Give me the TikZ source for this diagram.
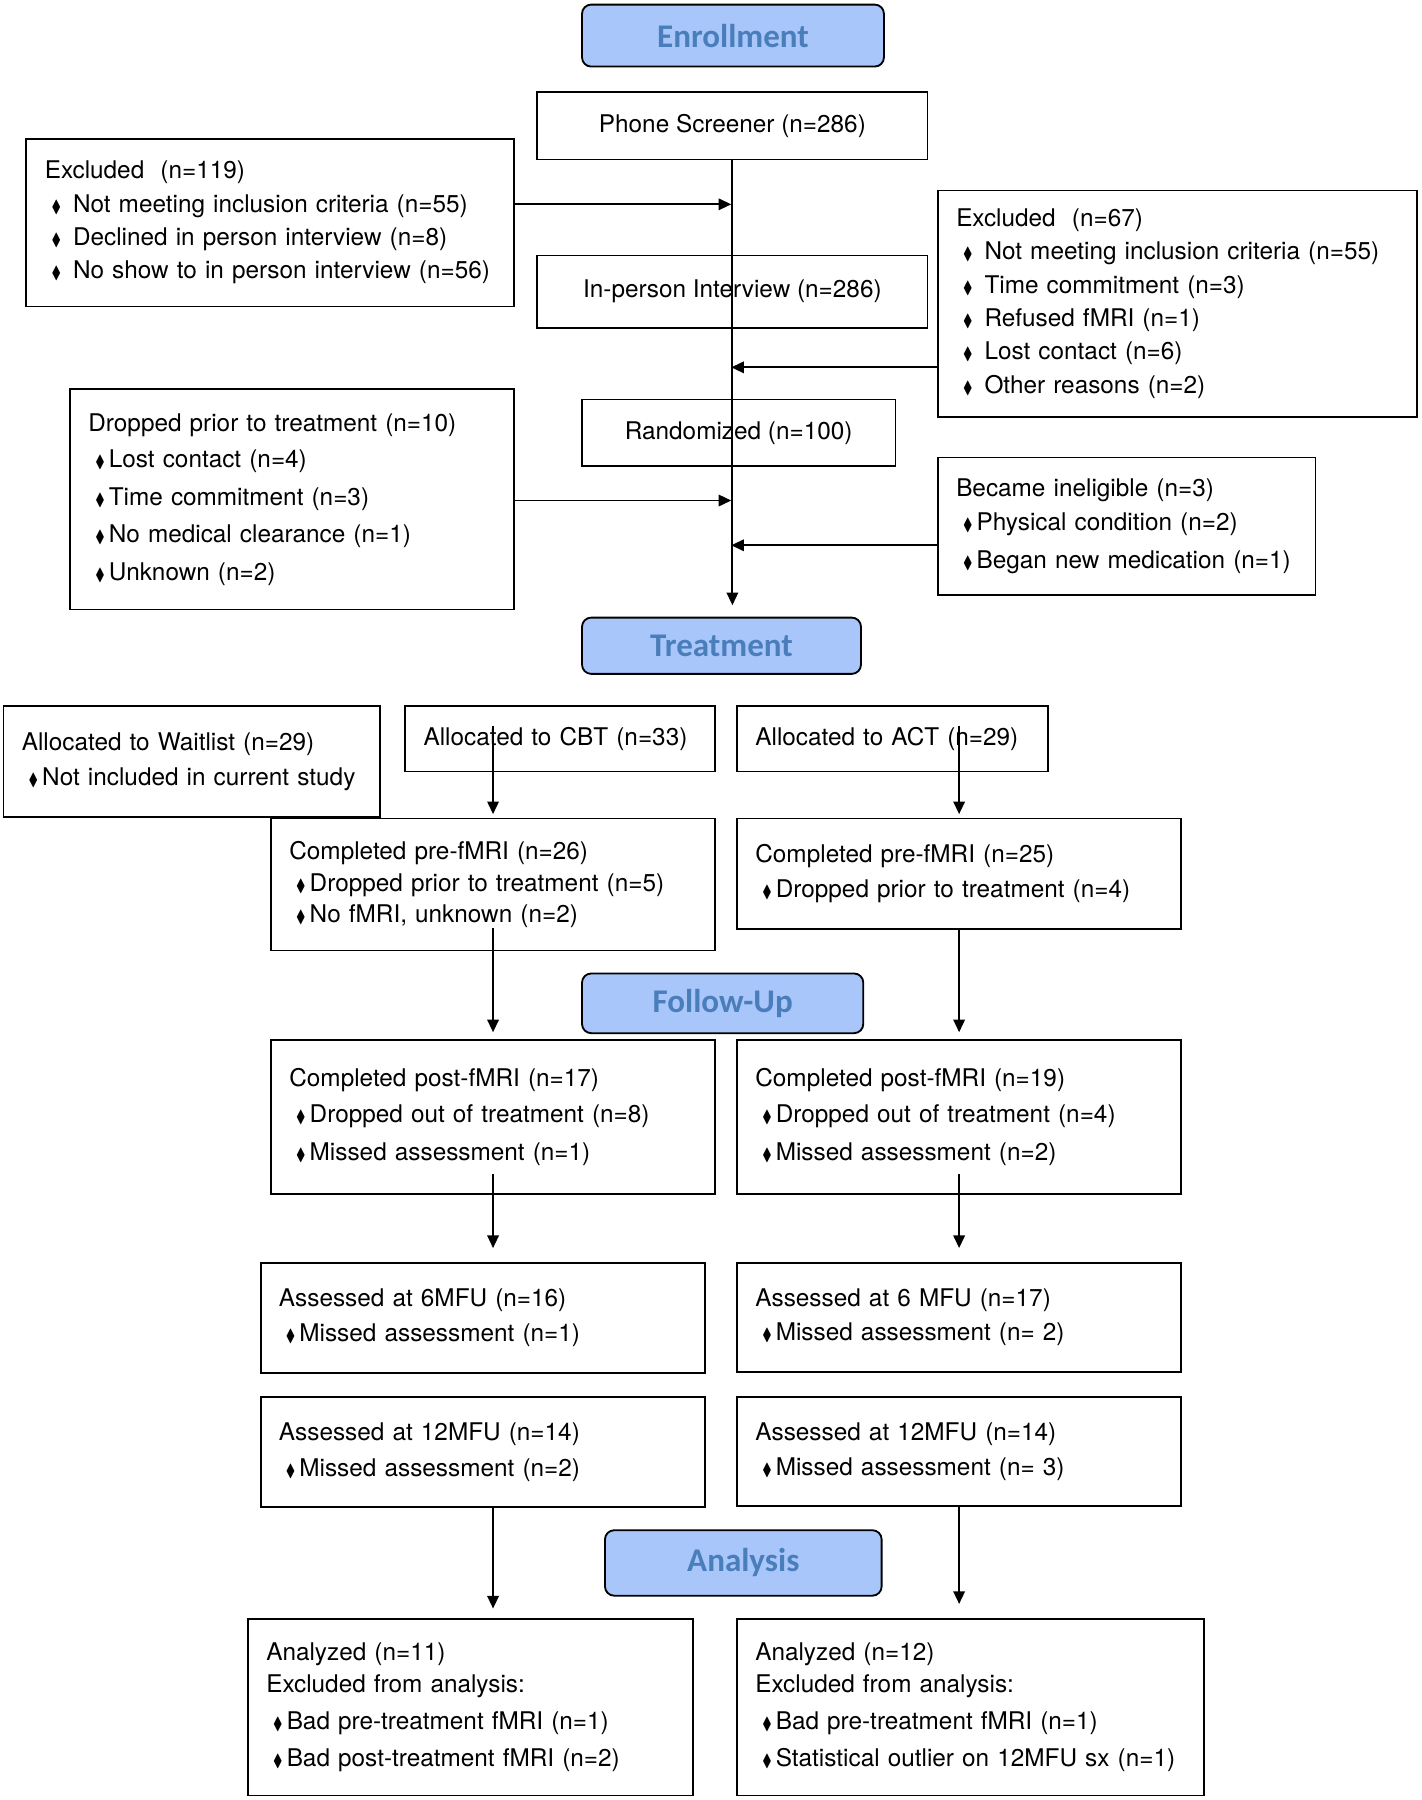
\documentclass[tikz,border=0pt]{standalone}
\usepackage{fontspec}
\usepackage{amssymb}
\setmainfont{TeX Gyre Heros}
\newfontfamily\hdrfont{Carlito}
\usetikzlibrary{arrows.meta}
\definecolor{hdrfill}{RGB}{168,198,250}
\definecolor{hdrtext}{RGB}{74,126,187}
\newcommand{\dm}[1][1.8pt]{\hspace*{3pt}\scalebox{0.58}[0.72]{$\blacklozenge$}\hspace{#1}}
\tikzset{
	box/.style={draw, line width=0.8pt, inner sep=0pt, font=\fontsize{10.6}{14.5}\selectfont},
	cbox/.style 2 args={box, minimum width=#1, minimum height=#2},
	lbox/.style 2 args={box, align=left, inner xsep=8pt, text width=#1, minimum height=#2},
	hdr/.style 2 args={draw, line width=0.8pt, rounded corners=4pt, fill=hdrfill, text=hdrtext, inner sep=0pt,
		font=\hdrfont\bfseries\fontsize{14.4}{16}\selectfont, minimum width=#1, minimum height=#2},
	arr/.style={line width=0.8pt, -{Triangle[length=5.5pt,width=5pt]}}
}
\begin{document}
\begin{tikzpicture}[x=0.5pt,y=-0.5pt]
	\useasboundingbox (0,0) rectangle (1238,1568);
	\node[hdr={131.5pt}{27pt}] (enroll) at (638.5,31) {Enrollment};
	\node[cbox={170pt}{29.5pt}] (phone) at (638,109.5) {Phone Screener (n=286)};
	\node[lbox={196.5pt}{73pt}] (excla) at (235.5,194) {Excluded~~(n=119)\\
		\dm[5.2pt]Not meeting inclusion criteria (n=55)\\
		\dm[5.2pt]Declined in person interview (n=8)\\
		\dm[5.2pt]No show to in person interview (n=56)};
	\node[cbox={170pt}{31.5pt}] (interview) at (638,254) {In-person Interview (n=286)};
	\node[lbox={192.5pt}{98.5pt}] (exclb) at (1025.5,264.5) {Excluded~~(n=67)\\
		\dm[5.2pt]Not meeting inclusion criteria (n=55)\\
		\dm[5.2pt]Time commitment (n=3)\\
		\dm[5.2pt]Refused fMRI (n=1)\\
		\dm[5.2pt]Lost contact (n=6)\\
		\dm[5.2pt]Other reasons (n=2)};
	\node[cbox={136.5pt}{29pt}] (rand) at (643.5,377) {Randomized (n=100)};
	\node[lbox={177.5pt}{96pt}] (drop) at (254.5,435) {Dropped prior to treatment (n=10)\\[1.5pt]
		\dm Lost contact (n=4)\\[1.8pt]
		\dm Time commitment (n=3)\\[1.8pt]
		\dm No medical clearance (n=1)\\[1.8pt]
		\dm Unknown (n=2)};
	\node[lbox={148.5pt}{60pt}] (inelig) at (981.5,458.5) {Became ineligible (n=3)\\[0.5pt]
		\dm Physical condition (n=2)\\[2pt]
		\dm Began new medication (n=1)};
	\node[hdr={121.5pt}{24.5pt}] (treat) at (628.5,562.5) {Treatment};
	\node[lbox={148pt}{48.5pt}] (wait) at (167,663.5) {Allocated to Waitlist (n=29)\\[0.5pt]
		\dm Not included in current study};
	\node[lbox={119pt}{28.5pt}] (cbt) at (488,643.5) {Allocated to CBT (n=33)};
	\node[lbox={119.5pt}{28.5pt}] (act) at (777.5,643.5) {Allocated to ACT (n=29)};
	\node[lbox={177.5pt}{57.5pt}] (precbt) at (429.5,770.5) {Completed pre-fMRI (n=26)\\[-0.75pt]
		\dm Dropped prior to treatment (n=5)\\[-0.75pt]
		\dm No fMRI, unknown (n=2)};
	\node[lbox={177.5pt}{48pt}] (preact) at (835.5,761) {Completed pre-fMRI (n=25)\\[1pt]
		\dm Dropped prior to treatment (n=4)};
	\node[hdr={122.5pt}{26pt}] (follow) at (629.5,874) {Follow-Up};
	\node[lbox={177.5pt}{67pt}] (postcbt) at (429.5,973) {Completed post-fMRI (n=17)\\[1pt]
		\dm Dropped out of treatment (n=8)\\[2pt]
		\dm Missed assessment (n=1)};
	\node[lbox={177.5pt}{67pt}] (postact) at (835.5,973) {Completed post-fMRI (n=19)\\[1pt]
		\dm Dropped out of treatment (n=4)\\[2pt]
		\dm Missed assessment (n=2)};
	\node[lbox={177.5pt}{48pt}] (sixcbt) at (420.5,1148) {Assessed at 6MFU (n=16)\\[0.5pt]
		\dm Missed assessment (n=1)};
	\node[lbox={177.5pt}{47.5pt}] (sixact) at (835.5,1147.5) {Assessed at 6 MFU (n=17)\\[0.5pt]
		\dm Missed assessment (n= 2)};
	\node[lbox={177.5pt}{48pt}] (twcbt) at (420.5,1265) {Assessed at 12MFU (n=14)\\[1pt]
		\dm Missed assessment (n=2)};
	\node[lbox={177.5pt}{47.5pt}] (twact) at (835.5,1264.5) {Assessed at 12MFU (n=14)\\[1pt]
		\dm Missed assessment (n= 3)};
	\node[hdr={120.5pt}{28.5pt}] (analysis) at (647.5,1361.5) {Analysis};
	\node[lbox={178pt}{77pt}] (ancbt) at (410,1487) {Analyzed (n=11)\\[-0.5pt]
		Excluded from analysis:\\[1.5pt]
		\dm Bad pre-treatment fMRI (n=1)\\[1.5pt]
		\dm Bad post-treatment fMRI (n=2)};
	\node[lbox={187.5pt}{77pt}] (anact) at (845.5,1487) {Analyzed (n=12)\\[-0.5pt]
		Excluded from analysis:\\[1.5pt]
		\dm Bad pre-treatment fMRI (n=1)\\[1.5pt]
		\dm Statistical outlier on 12MFU sx (n=1)};
	\coordinate (j1) at (637,178);
	\coordinate (j2) at (637,320);
	\coordinate (j3) at (637,436);
	\coordinate (j4) at (637,475);
	\draw[arr, shorten >=5pt] (phone.south) -- (phone.south |- treat.north);
	\draw[arr] (excla.east |- j1) -- (j1);
	\draw[arr] (exclb.west |- j2) -- (j2);
	\draw[arr] (drop.east |- j3) -- (j3);
	\draw[arr] (inelig.west |- j4) -- (j4);
	\draw[arr, shorten >=1.5pt] ([yshift=-9pt]cbt.north -| precbt.north) -- (precbt.north);
	\draw[arr, shorten >=1.5pt] ([yshift=-9pt]act.north -| preact.north) -- (preact.north);
	\draw[arr, shorten >=3pt] ([yshift=10pt]precbt.south) -- (postcbt.north);
	\draw[arr, shorten >=3pt] (preact.south) -- (postact.north);
	\draw[arr, shorten >=6pt] ([yshift=9pt]postcbt.south) -- (postcbt.south |- sixcbt.north);
	\draw[arr, shorten >=6pt] ([yshift=9pt]postact.south) -- (postact.south |- sixact.north);
	\draw[arr, shorten >=4pt] (twcbt.south -| postcbt.south) -- (ancbt.north -| postcbt.south);
	\draw[arr, shorten >=6pt] (twact.south) -- (twact.south |- anact.north);
\end{tikzpicture}
\end{document}
